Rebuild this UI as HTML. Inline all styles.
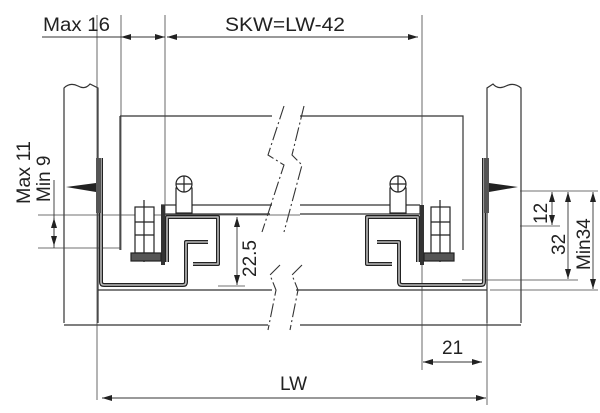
<!DOCTYPE html>
<html><head><meta charset="utf-8"><style>
html,body{margin:0;padding:0;background:#fff;width:600px;height:413px;overflow:hidden}
svg{display:block}
text{font-family:"Liberation Sans",sans-serif;fill:#222}
</style></head><body>
<svg width="600" height="413" viewBox="0 0 600 413" xmlns="http://www.w3.org/2000/svg">
<defs>
<marker id="a" viewBox="0 0 10 6" refX="10" refY="3" markerWidth="10" markerHeight="6" orient="auto-start-reverse" markerUnits="userSpaceOnUse"><path d="M0,0 L10,3 L0,6 z" fill="#222"/></marker>
</defs>
<g stroke="#333" fill="none" stroke-width="1.2">
<path d="M64,323 V88 Q70,82 78,86 Q85,90 90,84 L98,88 V323"/>
<path d="M521,323 V88 Q514,82 506,86 Q498,90 493,84 L487,88 V323"/>
<path d="M64,325 H268 M300,325 H521 M98,290 H272 M296,290 H487"/>
<path d="M120,116 H272 M300,116 H463 V250 M120,116 V250"/>
<path d="M161,205 H272 M300,205 H420 M161,214 H270 M300,214 H420"/>
<path d="M163,205 V214 M420,205 V214"/>
</g>
<g stroke="#333" fill="none" stroke-width="1.1" stroke-dasharray="14,3,2,3">
<path d="M284,106 L268,155 L284,165 L262,232 M280,265 L270,275 L276,290 L268,330"/>
<path d="M304,106 L292,155 L302,165 L284,232 M302,265 L292,275 L298,290 L290,330"/>
</g>
<g stroke="#444" stroke-width="0.8" fill="none">
<path d="M97,15 V400 M121,15 V250 M165,15 V214 M422,15 V370 M487,250 V405"/>
<path d="M38,215 H300 M38,248 H120 M218,286 H245"/>
<path d="M520,191 H598 M520,226 H560 M462,280 H578 M490,290 H598"/>
</g>
<!-- profiles: dark outline, gray core -->
<g fill="none" stroke="#222" stroke-width="4" stroke-linejoin="round">
<path id="r1" d="M101,158 V282 Q101,285 104,285 H183 Q186,285 186,282 V242 H208"/>
<path id="r2" d="M484,158 V282 Q484,285 481,285 H402 Q399,285 399,282 V242 H377"/>
<path id="c1" d="M167,262 V217 H218 V264 H193"/>
<path id="c2" d="M418,262 V217 H367 V264 H392"/>
</g>
<g fill="none" stroke="#bbb" stroke-width="1.6" stroke-linejoin="round">
<path d="M101,158 V282 Q101,285 104,285 H183 Q186,285 186,282 V242 H208"/>
<path d="M484,158 V282 Q484,285 481,285 H402 Q399,285 399,282 V242 H377"/>
<path d="M167,262 V217 H218 V264 H193"/>
<path d="M418,262 V217 H367 V264 H392"/>
</g>
<rect x="161" y="205" width="4" height="60" fill="#333"/>
<rect x="420" y="205" width="4" height="60" fill="#333"/>
<g stroke="#222" stroke-width="1.2" fill="#fff">
<rect x="135" y="207" width="19" height="46"/>
<path d="M135,222 H154 M135,235 H154 M144,200 V262"/>
<rect x="131" y="253" width="30" height="8" fill="#555"/>
<rect x="176" y="188" width="16" height="25"/>
<circle cx="184" cy="184" r="8"/>
<path d="M176,184 H192 M184,176 V192"/>
<rect x="431" y="207" width="19" height="46"/>
<path d="M431,222 H450 M431,235 H450 M440,200 V262"/>
<rect x="424" y="253" width="30" height="8" fill="#555"/>
<rect x="390" y="188" width="16" height="25"/>
<circle cx="398" cy="184" r="8"/>
<path d="M390,184 H406 M398,176 V192"/>
</g>
<path d="M66,187 L96,183 L96,192 Z" fill="#222"/>
<rect x="96" y="158" width="5" height="55" fill="#555"/>
<path d="M518,187 L489,183 L489,192 Z" fill="#222"/>
<rect x="484" y="158" width="5" height="55" fill="#555"/>
<g stroke="#333" stroke-width="0.9" fill="none">
<line x1="42" y1="37" x2="121" y2="37"/>
<line x1="121" y1="37" x2="165" y2="37" marker-start="url(#a)" marker-end="url(#a)"/>
<line x1="167" y1="37" x2="418" y2="37" marker-start="url(#a)" marker-end="url(#a)"/>
<line x1="54" y1="180" x2="54" y2="248"/>
<line x1="54" y1="218" x2="54" y2="246" marker-start="url(#a)" marker-end="url(#a)"/>
<line x1="237" y1="217" x2="237" y2="285" marker-start="url(#a)" marker-end="url(#a)"/>
<line x1="552" y1="192" x2="552" y2="225" marker-start="url(#a)" marker-end="url(#a)"/>
<line x1="568" y1="192" x2="568" y2="279" marker-start="url(#a)" marker-end="url(#a)"/>
<line x1="593" y1="192" x2="593" y2="289" marker-start="url(#a)" marker-end="url(#a)"/>
<line x1="423" y1="362" x2="482" y2="362" marker-start="url(#a)" marker-end="url(#a)"/>
<line x1="102" y1="398" x2="486" y2="398" marker-start="url(#a)" marker-end="url(#a)"/>
</g>
<g font-size="19">
<text x="43" y="31" textLength="67" lengthAdjust="spacingAndGlyphs">Max 16</text>
<text x="225" y="31" textLength="120" lengthAdjust="spacingAndGlyphs">SKW=LW-42</text>
<text x="280" y="390">LW</text>
<text x="442" y="354">21</text>
<text transform="translate(30,204) rotate(-90)" textLength="63" lengthAdjust="spacingAndGlyphs">Max 11</text>
<text transform="translate(50,202) rotate(-90)">Min 9</text>
<text transform="translate(256,277) rotate(-90)">22.5</text>
<text transform="translate(547,224) rotate(-90)">12</text>
<text transform="translate(565,255) rotate(-90)">32</text>
<text transform="translate(590,270) rotate(-90)">Min34</text>
</g>
</svg>
</body></html>
